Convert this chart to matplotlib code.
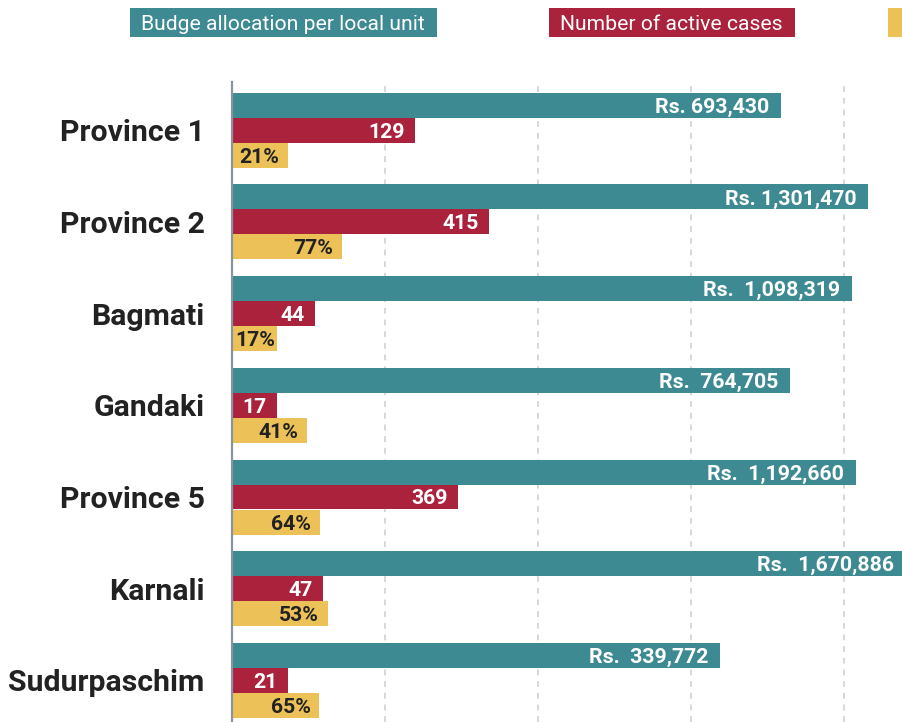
#!/usr/bin/env python3
"""Grouped horizontal bars: budget per local unit, active cases and share by province."""

import matplotlib

matplotlib.use("Agg")

import matplotlib.pyplot as plt
from matplotlib.patches import Rectangle

plt.rcParams["font.family"] = ["Roboto", "DejaVu Sans"]

# --- data ------------------------------------------------------------------
provinces = ["Province 1", "Province 2", "Bagmati", "Gandaki",
             "Province 5", "Karnali", "Sudurpaschim"]

budget_labels = ["Rs. 693,430", "Rs. 1,301,470", "Rs.  1,098,319", "Rs.  764,705",
                 "Rs.  1,192,660", "Rs.  1,670,886", "Rs.  339,772"]
cases_labels = ["129", "415", "44", "17", "369", "47", "21"]
share_labels = ["21%", "77%", "17%", "41%", "64%", "53%", "65%"]

# bar lengths as drawn in the chart (axis units, gridline every 25)
budget_bar = [89.7, 103.9, 101.3, 91.1, 101.9, 110.0, 79.7]
cases_bar = [29.9, 41.9, 13.5, 7.3, 36.9, 14.8, 9.1]
share_bar = [9.1, 17.9, 7.3, 12.2, 14.3, 15.6, 14.2]

legend_names = ["Budge allocation per local unit", "Number of active cases"]

TEAL = "#3d8a93"
RED = "#aa223c"
YELLOW = "#ecc258"
DARK = "#222222"

# --- figure ----------------------------------------------------------------
W, H = 903, 722
fig = plt.figure(figsize=(W / 100, H / 100), dpi=100)
fig.patch.set_facecolor("white")

left_px, top_px = 232.3, 82
ax = fig.add_axes([left_px / W, 0, (W - left_px) / W, (H - top_px) / H])

group_step = 91.7
bar_h = 25 / group_step
first_center = 130.2
ax.set_ylim((H - first_center) / group_step, (top_px - first_center) / group_step)
ax.set_xlim(0, (W - left_px) / 6.12)

ys = list(range(len(provinces)))
series = [
    (budget_bar, budget_labels, TEAL, "white", -bar_h, 8.4),
    (cases_bar, cases_labels, RED, "white", 0.0, 7.2),
    (share_bar, share_labels, YELLOW, DARK, bar_h, 6.3),
]

value_texts = []
for values, labels, color, txt_color, shift, pad in series:
    pos = [y + shift for y in ys]
    ax.barh(pos, values, height=bar_h, color=color, linewidth=0, zorder=2)
    for val, y, lab in zip(values, pos, labels):
        t = ax.annotate(lab, xy=(val, y), xytext=(-pad, 0), textcoords="offset points",
                        ha="right", va="center_baseline", color=txt_color,
                        fontsize=15.3, fontweight="bold", annotation_clip=False, zorder=3)
        value_texts.append(t)

ax.set_yticks(ys)
ax.set_yticklabels(provinces, fontsize=21.8, fontweight="bold", color=DARK)
ax.tick_params(axis="y", length=0, pad=20)

ax.set_xticks([25, 50, 75, 100])
ax.tick_params(axis="x", length=0, labelbottom=False)
ax.grid(axis="x", linestyle=(0, (3.5, 3.5)), color="#cdd2d7", linewidth=1.2)
ax.set_axisbelow(True)

for side in ["top", "right", "bottom"]:
    ax.spines[side].set_visible(False)
ax.spines["left"].set_color("#8a949c")
ax.spines["left"].set_linewidth(1.6)
ax.spines["left"].set_zorder(4)

# keep short-bar labels from spilling left of the axis
renderer = fig.canvas.get_renderer()
axis_x = ax.transData.transform((0, 0))[0]
for t in value_texts:
    bb = t.get_window_extent(renderer)
    if bb.x0 < axis_x + 3:
        shift_pt = (axis_x + 3 - bb.x0) * 72 / fig.dpi
        ox, oy = t.xyann
        t.xyann = (ox + shift_pt, oy)

# --- legend boxes along the top ---------------------------------------------
boxes = [(130, 437, TEAL), (549, 795, RED), (888, 915, YELLOW)]
for i, (x0, x1, color) in enumerate(boxes):
    fig.add_artist(Rectangle((x0 / W, 1 - 37 / H), (x1 - x0) / W, 29 / H,
                             transform=fig.transFigure, color=color, linewidth=0))
    if i < len(legend_names):
        fig.text((x0 + 11) / W, 1 - 22.5 / H, legend_names[i], color="white",
                 fontsize=15.2, va="center_baseline", ha="left")

fig.savefig("out.png", dpi=100)
